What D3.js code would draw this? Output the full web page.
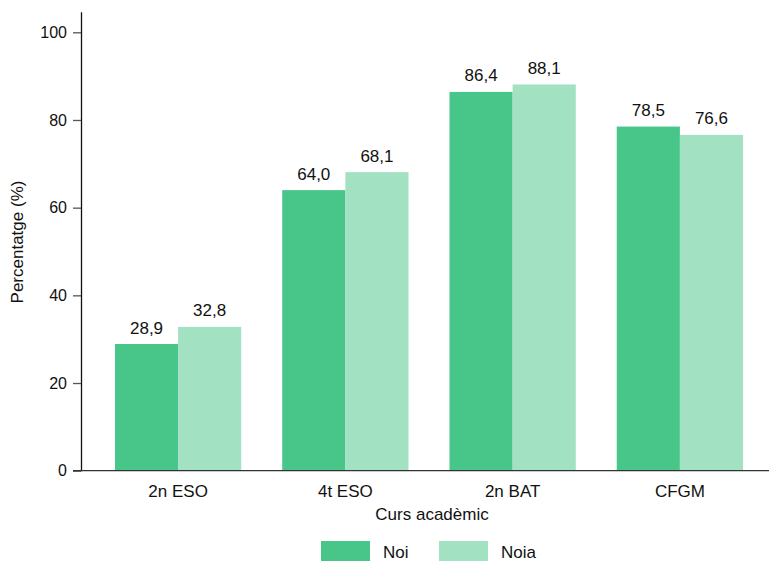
<!DOCTYPE html>
<html>
<head>
<meta charset="utf-8">
<script src="https://cdn.jsdelivr.net/npm/d3@7/dist/d3.min.js"></script>
<style>
  html, body { margin: 0; padding: 0; background: #fff; }
  svg { display: block; font-family: "Liberation Sans", Arial, sans-serif; }
</style>
</head>
<body>
<svg id="chart" width="769" height="561"></svg>
<script>
// Percentatge per curs acadèmic i sexe
const categories = ["2n ESO", "4t ESO", "2n BAT", "CFGM"];
const seriesNames = ["Noi", "Noia"];
const noiValues = [28.9, 64.0, 86.4, 78.5];
const noiaValues = [32.8, 68.1, 88.1, 76.6];
const yTicks = [0, 20, 40, 60, 80, 100];
const colors = ["#48C689", "#A3E1C3"];

const series = [noiValues, noiaValues];
const rows = categories.map((c, i) => ({
  category: c,
  values: seriesNames.map((s, j) => ({ key: s, value: series[j][i], idx: j }))
}));

const svg = d3.select("#chart");
const plotLeft = 81, plotBottom = 470.7, plotTop = 11.7;
const fontSize = 17;

const y = d3.scaleLinear().domain([0, 104.7]).range([plotBottom, plotTop]);
const x = d3.scaleBand().domain(categories).range([plotLeft, 777])
  .paddingInner(0.245).paddingOuter(0.203);
const xs = d3.scaleBand().domain(seriesNames).range([0, x.bandwidth()]);
const fmt = v => d3.format(".1f")(v).replace(".", ",");

// bars
const groups = svg.append("g").selectAll("g").data(rows).join("g")
  .attr("transform", d => `translate(${x(d.category)},0)`);
groups.selectAll("rect").data(d => d.values).join("rect")
  .attr("x", d => xs(d.key))
  .attr("width", xs.bandwidth())
  .attr("y", d => y(d.value))
  .attr("height", d => y(0) - y(d.value))
  .attr("fill", d => colors[d.idx]);

// value labels
groups.selectAll("text").data(d => d.values).join("text")
  .attr("x", d => xs(d.key) + xs.bandwidth() / 2)
  .attr("y", d => y(d.value) - 10.5)
  .attr("text-anchor", "middle")
  .attr("font-size", fontSize)
  .attr("fill", "#111")
  .text(d => fmt(d.value));

// y axis
const yAxis = svg.append("g").attr("transform", `translate(${plotLeft},0)`)
  .call(d3.axisLeft(y).tickValues(yTicks).tickSize(8).tickPadding(6).tickSizeOuter(0));
yAxis.select(".domain").attr("stroke", "#111").attr("stroke-width", 1.3);
yAxis.selectAll(".tick line").attr("stroke", "#555").attr("stroke-width", 1.3);
yAxis.selectAll(".tick text").attr("font-size", 16).attr("fill", "#111")
  .attr("font-family", "Liberation Sans, Arial, sans-serif");

// x axis
const xAxis = svg.append("g").attr("transform", `translate(0,${plotBottom})`)
  .call(d3.axisBottom(x).tickSize(0).tickPadding(14).tickSizeOuter(0));
xAxis.select(".domain").attr("stroke", "#333").attr("stroke-width", 1.3)
  .attr("d", `M${plotLeft - 8},0H769`);
xAxis.selectAll(".tick text").attr("font-size", fontSize).attr("fill", "#111")
  .attr("font-family", "Liberation Sans, Arial, sans-serif");

// axis titles
svg.append("text").attr("x", 432).attr("y", 520).attr("text-anchor", "middle")
  .attr("font-size", fontSize).attr("fill", "#111").text("Curs acadèmic");
svg.append("text").attr("transform", "translate(23,242) rotate(-90)")
  .attr("text-anchor", "middle").attr("font-size", fontSize).attr("fill", "#111")
  .text("Percentatge (%)");

// legend
const legendX = [321, 439];
const legend = svg.append("g").selectAll("g").data(seriesNames).join("g")
  .attr("transform", (d, i) => `translate(${legendX[i]},541)`);
legend.append("rect").attr("width", 49).attr("height", 22)
  .attr("fill", (d, i) => colors[i]);
legend.append("text").attr("x", 62).attr("y", 17).attr("font-size", fontSize)
  .attr("fill", "#111").text(d => d);
</script>
</body>
</html>
